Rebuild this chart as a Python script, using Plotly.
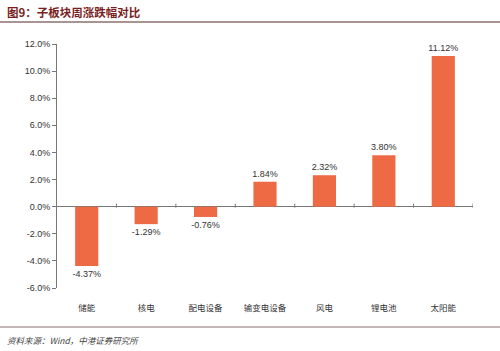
import plotly.graph_objects as go

categories = ["储能", "核电", "配电设备", "输变电设备", "风电", "锂电池", "太阳能"]
values = [-4.37, -1.29, -0.76, 1.84, 2.32, 3.80, 11.12]
y_ticks = [-6, -4, -2, 0, 2, 4, 6, 8, 10, 12]
y_tick_text = [f"{v:.1f}%" for v in y_ticks]
title_text = "图9：子板块周涨跌幅对比"
source_text = "资料来源：Wind，中港证券研究所"

bar_color = "#EE6A45"

fig = go.Figure()
fig.add_trace(go.Bar(
    x=list(range(len(categories))), y=values,
    marker=dict(color=bar_color, line=dict(width=0)),
    width=0.39,
    text=[f"{v:.2f}%" for v in values],
    textposition="outside",
    constraintext="none",
    textfont=dict(size=9, color="#333333", family="Liberation Sans, Arial"),
    cliponaxis=False,
    showlegend=False,
))

shapes = []
# category boundary ticks on the zero line
for i in range(len(categories)):
    shapes.append(dict(type="line", xref="x", yref="y", x0=i + 0.5, x1=i + 0.5,
                       ysizemode="pixel", yanchor=0, y0=-1, y1=3,
                       line=dict(color="#777777", width=1)))
# header and footer rules
shapes.append(dict(type="line", xref="paper", yref="paper",
                   x0=-57/416, x1=(500-57)/416, y0=(351-22-63)/244, y1=(351-22-63)/244,
                   line=dict(color="#8C7070", width=1.5)))
shapes.append(dict(type="line", xref="paper", yref="paper",
                   x0=-57/416, x1=(500-57)/416, y0=(351-327-63)/244, y1=(351-327-63)/244,
                   line=dict(color="#8C7070", width=1)))

annotations = [
    dict(text=f"<b>{title_text}</b>", xref="paper", yref="paper",
         x=-52/416, y=(351-12-63)/244, xanchor="left", yanchor="middle",
         showarrow=False, font=dict(size=11.5, color="#7A1F1F", family="Noto Sans CJK SC")),
    dict(text=f"<i>{source_text}</i>", xref="paper", yref="paper",
         x=-52/416, y=(351-340-63)/244, xanchor="left", yanchor="middle",
         showarrow=False, font=dict(size=8.5, color="#444444", family="Noto Sans CJK SC")),
]

fig.update_layout(
    width=500, height=351,
    margin=dict(l=57, r=27, t=44, b=63),
    paper_bgcolor="white", plot_bgcolor="white",
    xaxis=dict(
        tickmode="array", tickvals=list(range(len(categories))), ticktext=categories,
        range=[-0.5, len(categories) - 0.5],
        showline=False, showgrid=False, zeroline=False, ticks="",
        tickfont=dict(size=8.5, color="#333333", family="Noto Sans CJK SC"),
        ticklabelstandoff=13,
    ),
    yaxis=dict(
        range=[-6, 12], tickmode="array", tickvals=y_ticks, ticktext=y_tick_text,
        showline=True, linecolor="#777777", linewidth=1,
        ticks="outside", ticklen=4, tickcolor="#777777",
        showgrid=False, zeroline=True, zerolinecolor="#777777", zerolinewidth=1,
        tickfont=dict(size=9, color="#333333", family="Liberation Sans, Arial"),
    ),
    shapes=shapes,
    annotations=annotations,
    bargap=0.6,
)

fig.write_html("out.html")
